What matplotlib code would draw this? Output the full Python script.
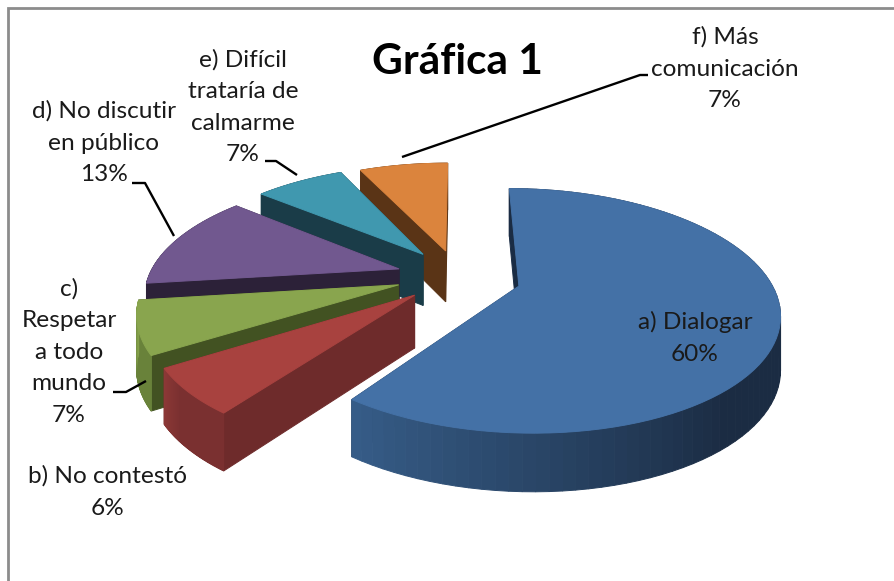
import numpy as np
import matplotlib
matplotlib.use("Agg")
import matplotlib.pyplot as plt

# Data
categories = ["a) Dialogar", "b) No contestó", "c)\nRespetar\na todo\nmundo",
              "d) No discutir\nen público", "e) Difícil\ntrataría de\ncalmarme", "f) Más\ncomunicación"]
values = [60, 6, 7, 13, 7, 7]
title = "Gráfica 1"

# Styles (RGB 0-255)
top_colors = [(68, 113, 166), (168, 66, 63), (137, 165, 78), (113, 88, 143), (64, 152, 175), (219, 132, 61)]
cut_colors = [(26, 44, 68), (110, 43, 43), (66, 82, 34), (44, 33, 56), (26, 60, 72), (90, 52, 22)]
arc_start = [(27, 44, 67), (122, 48, 48), (105, 130, 58), (44, 33, 56), (26, 60, 72), (90, 52, 22)]
arc_end = [(54, 92, 135), (140, 56, 54), (132, 160, 74), (44, 33, 56), (26, 60, 72), (90, 52, 22)]
nudges = [(1, 2), (-2, 1), (-6, 0), (-6, 0), (-3, -2), (-3, -1)]
label_xy = [(695, 338), (108, 492), (69, 352), (104, 143), (243, 107), (725, 69)]
leaders = [None, None,
           [(146, 381), (126, 392), (113, 392)],
           [(174, 236), (145, 183), (132, 183)],
           [(297, 175), (276, 161), (265, 161)],
           [(402, 157), (640, 75), (648, 75)]]

W, H = 894, 581
START, EXPLODE_X, EXPLODE_Y = 0.0, 0.236, 0.226
CX, CY, A, B, K, D = 461, 276, 250, 114, 0.2, 52

fig = plt.figure(figsize=(W / 100, H / 100), dpi=100, facecolor="white")
ax = fig.add_axes([0, 0, 1, 1])
ax.set_xlim(0, W)
ax.set_ylim(H, 0)
ax.axis("off")
plt.rcParams["font.family"] = ["Lato", "DejaVu Sans"]


def project(X, Y, nudge, down=False):
    w = 1 + K * np.asarray(Y, float)
    sx = CX + A * np.asarray(X, float) / w + nudge[0]
    sy = CY - B * np.asarray(Y, float) / w + nudge[1]
    if down:
        sy = sy + D / np.sqrt(w)
    return sx, sy


def rgb(c):
    return tuple(v / 255 for v in c)


def poly(xs, ys, color, z):
    ax.fill(xs, ys, facecolor=color, edgecolor=color, linewidth=0.7, zorder=z)


bounds = START + np.concatenate([[0], np.cumsum(values)]) * 360 / sum(values)
z = 1
for i in range(len(values) - 1, -1, -1):
    t0, t1 = bounds[i], bounds[i + 1]
    mid = np.radians((t0 + t1) / 2)
    ox, oy = EXPLODE_X * np.sin(mid), EXPLODE_Y * np.cos(mid)
    th = np.radians(np.linspace(t0, t1, 90))
    X, Y = ox + np.sin(th), oy + np.cos(th)
    n = nudges[i]
    tx, ty = project(X, Y, n)
    bx, by = project(X, Y, n, True)
    ax0, ay0 = project(ox, oy, n)
    bx0, by0 = project(ox, oy, n, True)
    cut = rgb(cut_colors[i])
    # end cut, start cut
    poly([ax0, tx[-1], bx[-1], bx0], [ay0, ty[-1], by[-1], by0], cut, z); z += 1
    poly([ax0, tx[0], bx[0], bx0], [ay0, ty[0], by[0], by0], cut, z); z += 1
    # outer wall with a gradient
    for j in range(len(th) - 1):
        f = j / (len(th) - 2)
        col = [np.interp(f, [0, .65, 1], [a, a, b]) / 255 for a, b in zip(arc_start[i], arc_end[i])]
        poly([tx[j], tx[j + 1], bx[j + 1], bx[j]], [ty[j], ty[j + 1], by[j + 1], by[j]], col, z)
    z += 1
    # top
    poly(np.r_[ax0, tx], np.r_[ay0, ty], rgb(top_colors[i]), z); z += 1

# Leader lines
for pts in leaders:
    if pts:
        ax.plot(*zip(*pts), color="black", lw=1.7, zorder=200, solid_capstyle="butt")

# Labels
for name, v, (x, y) in zip(categories, values, label_xy):
    ax.text(x, y, f"{name}\n{v}%", ha="center", va="center", fontsize=17.6, color="#1a1a1a",
            linespacing=1.63, zorder=210)

ax.text(457, 62, title, ha="center", va="center", fontsize=30.5, fontweight="bold", color="black", zorder=210)

# Frame
ax.plot([8, 8, W], [H, 8, 8], color="#8c8c8c", lw=2, zorder=220, solid_joinstyle="miter")

fig.savefig("out.png", dpi=100, facecolor="white")
